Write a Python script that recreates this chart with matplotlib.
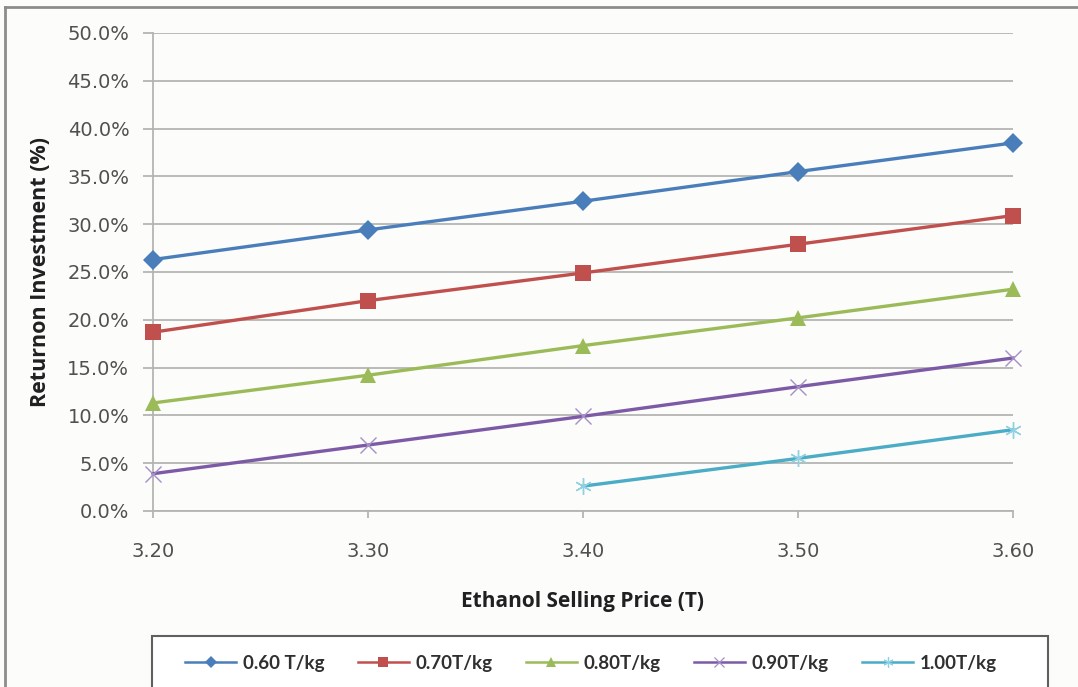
import matplotlib.pyplot as plt
import matplotlib.patches as mpatches
from matplotlib.lines import Line2D
import numpy as np

# ethanol selling price (x) and return on investment (%) per feedstock cost
prices = [3.20, 3.30, 3.40, 3.50, 3.60]
price_labels = ['3.20', '3.30', '3.40', '3.50', '3.60']
roi_060 = [26.3, 29.4, 32.4, 35.5, 38.5]
roi_070 = [18.7, 22.0, 24.9, 27.9, 30.9]
roi_080 = [11.3, 14.2, 17.3, 20.2, 23.2]
roi_090 = [3.9, 6.9, 9.9, 13.0, 16.0]
roi_100 = [np.nan, np.nan, 2.6, 5.5, 8.5]

labels = ['0.60 T/kg', '0.70T/kg', '0.80T/kg', '0.90T/kg', '1.00T/kg']
colors = ['#4a7ebb', '#c0504d', '#9bbb59', '#7d5aa6', '#4bacc6']
series = [roi_060, roi_070, roi_080, roi_090, roi_100]

bg = '#fcfcfa'
fig = plt.figure(figsize=(10.78, 6.87), dpi=100, facecolor=bg)
ax = fig.add_axes([0.1419, 0.2562, 0.7978, 0.6958], facecolor=bg)

markers = ['D', 's', '^', 'x', (6, 2, 0)]
msizes = [10, 11.5, 11.5, 11, 12]
edge_cols = [None, None, None, '#a58fc8', '#8fd0e2']

leg_handles = []
for y, lab, c, m, ms, ec in zip(series, labels, colors, markers, msizes, edge_cols):
    thin = ec is not None
    ax.plot(prices, y, color=c, linewidth=2.4, zorder=3, clip_on=False,
            marker=m, markersize=ms, markerfacecolor=c,
            markeredgecolor=ec if thin else c, markeredgewidth=1.0 if thin else 0)
    leg_handles.append(Line2D([], [], color=c, linewidth=1.8, marker=m,
                              markersize=ms * 0.6, markerfacecolor=c,
                              markeredgecolor=ec if thin else c,
                              markeredgewidth=0.9 if thin else 0, label=lab))

ax.set_xlim(3.20, 3.60)
ax.set_ylim(0, 50)
ax.set_xticks(prices)
ax.set_xticklabels(price_labels)
yt = np.arange(0, 51, 5)
ax.set_yticks(yt)
ax.set_yticklabels(['%.1f%%' % v for v in yt])

grid_c = '#b4b4b4'
ax.grid(axis='y', color=grid_c, linewidth=1.3)
ax.set_axisbelow(True)
for s in ['top', 'right']:
    ax.spines[s].set_visible(False)
for s in ['left', 'bottom']:
    ax.spines[s].set_color(grid_c)
    ax.spines[s].set_linewidth(1.3)

ax.tick_params(axis='y', direction='out', length=7, width=1.3, color=grid_c,
               pad=10, labelsize=14, labelcolor='#505050')
ax.tick_params(axis='x', direction='out', length=5, width=1.3, color=grid_c,
               pad=17, labelsize=14, labelcolor='#505050')
for t in ax.get_xticklabels() + ax.get_yticklabels():
    t.set_fontfamily('DejaVu Sans')

ax.set_xlabel('Ethanol Selling Price (T)', fontfamily='Open Sans', fontweight='bold',
              fontsize=15, color='#202020', labelpad=22)
ax.set_ylabel('Returnon Investment (%)', fontfamily='Open Sans', fontweight='bold',
              fontsize=15.5, color='#202020', labelpad=12)

# legend box running off the bottom edge
fig.patches.append(mpatches.Rectangle((152 / 1078, -0.05), 896 / 1078, 0.05 + 51 / 687,
                                      transform=fig.transFigure, facecolor='white',
                                      edgecolor='#606060', linewidth=1.5, zorder=1))
leg = fig.legend(handles=leg_handles, loc='center', bbox_to_anchor=(591 / 1078, 1 - 663 / 687),
                 ncol=5, frameon=False, handlelength=2.7, handletextpad=0.35,
                 columnspacing=1.8, prop={'family': 'Lato', 'weight': 'bold', 'size': 13.5})
for t in leg.get_texts():
    t.set_color('#303030')

# outer chart border (left and top)
fig.add_artist(Line2D([5 / 1078, 5 / 1078], [0, 1 - 7 / 687], transform=fig.transFigure,
                      color='#8c8c8c', linewidth=2))
fig.add_artist(Line2D([5 / 1078, 1], [1 - 7 / 687, 1 - 7 / 687], transform=fig.transFigure,
                      color='#8c8c8c', linewidth=2))

fig.savefig('out.png', dpi=100, facecolor=bg)
